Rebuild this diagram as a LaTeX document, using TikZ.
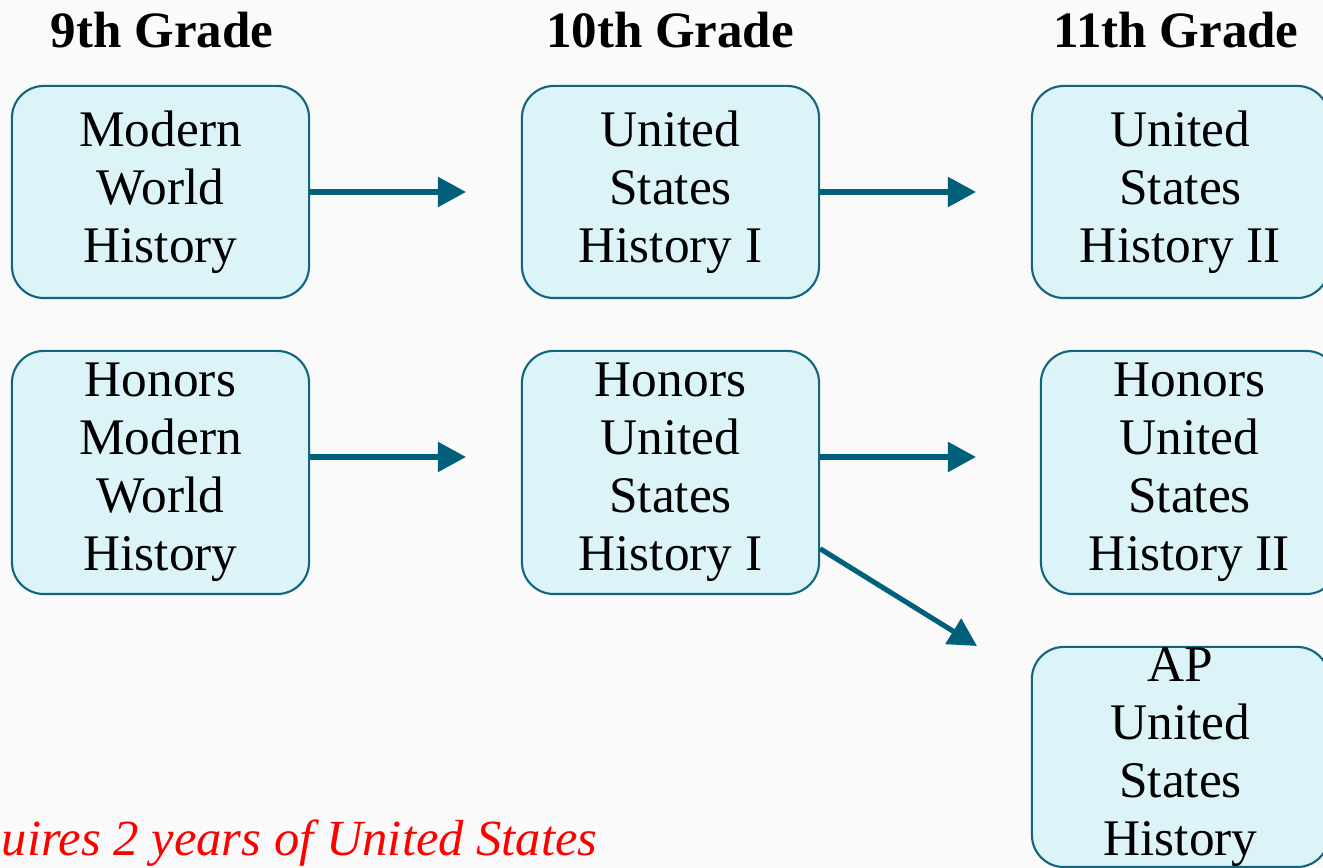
\documentclass[tikz,border=0pt]{standalone}
\usepackage{fontspec}
\setmainfont{Liberation Serif}
\usetikzlibrary{arrows.meta}
\definecolor{boxfill}{HTML}{DCF3F8}
\definecolor{boxline}{HTML}{11657E}
\definecolor{arrowcol}{HTML}{005F7A}
\definecolor{bgcol}{HTML}{FAFAFA}
\begin{document}
\begin{tikzpicture}[x=0.01cm, y=-0.01cm,
  course/.style={draw=boxline, line width=0.6pt, fill=boxfill, rounded corners=0.32cm,
    minimum width=2.97cm, minimum height=2.12cm, inner sep=0pt, align=center,
    font=\fontsize{14.6}{16.5}\selectfont},
  tall/.style={course, minimum height=2.43cm},
  grade/.style={inner sep=0pt, font=\fontsize{14.5}{16.5}\selectfont\bfseries},
  link/.style={draw=arrowcol, line width=1.45pt, -{Triangle[length=0.28cm, width=0.29cm]}}]
\useasboundingbox (0,0) rectangle (1323,868);
\clip (0,0) rectangle (1323,868);
\fill[bgcol] (0,0) rectangle (1323,868);
\node[grade] (g9) at (162,30) {9th Grade};
\node[grade] (g10) at (670,30) {10th Grade};
\node[grade] (g11) at (1176,30) {11th Grade};
\node[course] (mwh) at (160.5,192) {Modern\\World\\History};
\node[course] (us1) at (670.5,192) {United\\States\\History I};
\node[course] (us2) at (1180.5,192) {United\\States\\History II};
\node[tall] (hmwh) at (160.5,472.5) {Honors\\Modern\\World\\History};
\node[tall] (hus1) at (670.5,472.5) {Honors\\United\\States\\History I};
\node[tall] (hus2) at (1189.5,472.5) {Honors\\United\\States\\History II};
\node[course, minimum height=2.2cm] (apus) at (1180.5,757) {AP\\United\\States\\History};
\coordinate (e1) at (466,192);
\coordinate (e2) at (466,457);
\coordinate (e3) at (976,192);
\coordinate (e4) at (976,457);
\coordinate (e5) at (977,646);
\draw[link] (mwh.east) -- (e1);
\draw[link] (hmwh.east |- e2) -- (e2);
\draw[link] (us1.east) -- (e3);
\draw[link] (hus1.east |- e4) -- (e4);
\draw[link] (hus1.-27) -- (e5);
\node[anchor=base west, inner sep=0pt, text=red, font=\fontsize{14.4}{16.5}\selectfont\itshape] (note) at (1,856) {uires 2 years of United States};
\end{tikzpicture}
\end{document}
